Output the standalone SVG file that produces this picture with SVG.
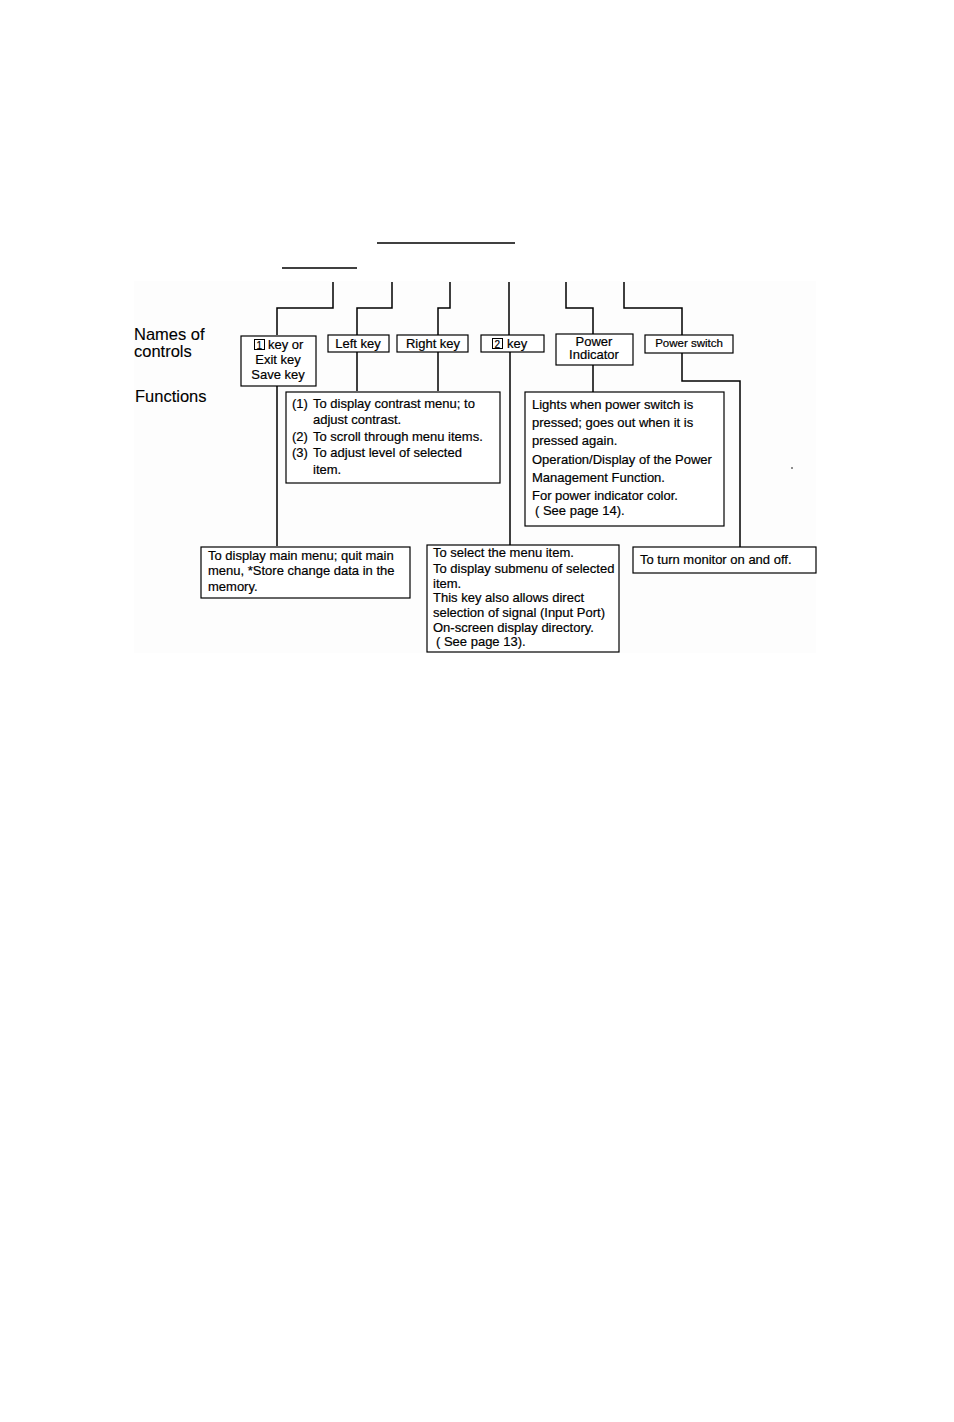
<svg xmlns="http://www.w3.org/2000/svg" width="954" height="1422" viewBox="0 0 954 1422">
<style>
.bg{fill:#fdfdfd}
.box{fill:#ffffff;stroke:#000;stroke-width:1.2}
.kb{fill:none;stroke:#000;stroke-width:1}
.ln{fill:none;stroke:#000;stroke-width:1.5}
text{font-family:"Liberation Sans",Arial,sans-serif;fill:#000;stroke:#000;stroke-width:0.2}
.t{font-size:13px}
.c{font-size:13px;text-anchor:middle}
.h{font-size:16.5px;stroke-width:0.1}
</style>
<rect width="954" height="1422" fill="#ffffff"/>
<rect class="bg" x="134" y="281" width="682" height="372"/>
<line class="ln" x1="377" y1="243" x2="515" y2="243"/>
<line class="ln" x1="282" y1="268" x2="357" y2="268"/>
<text class="h" x="134" y="340">Names of</text>
<text class="h" x="134" y="357">controls</text>
<text class="h" x="135" y="402">Functions</text>
<g id="connectors">
<polyline class="ln" points="333,282 333,308 277,308 277,335"/>
<polyline class="ln" points="392,282 392,308 357,308 357,335"/>
<polyline class="ln" points="450,282 450,308 438,308 438,335"/>
<polyline class="ln" points="509,282 509,335"/>
<polyline class="ln" points="566,282 566,308 593,308 593,334"/>
<polyline class="ln" points="624,282 624,308 682,308 682,335"/>
<line class="ln" x1="277" y1="386" x2="277" y2="546"/>
<line class="ln" x1="357" y1="352" x2="357" y2="391"/>
<line class="ln" x1="438" y1="352" x2="438" y2="391"/>
<line class="ln" x1="510" y1="352" x2="510" y2="545"/>
<line class="ln" x1="593" y1="365" x2="593" y2="392"/>
<polyline class="ln" points="682,353 682,381 740,381 740,547"/>
</g>
<g id="key1">
<rect class="box" x="241" y="336" width="75" height="50"/>
<rect class="kb" x="254.5" y="339.5" width="10" height="10"/>
<text class="t" x="256.5" y="348.5" style="font-size:10px">1</text>
<text class="t" x="268" y="349">key or</text>
<text class="c" x="278" y="364">Exit key</text>
<text class="c" x="278" y="379">Save key</text>
</g>
<g id="leftkey">
<rect class="box" x="328" y="335" width="61" height="17"/>
<text class="c" x="358" y="348">Left key</text>
</g>
<g id="rightkey">
<rect class="box" x="397" y="335" width="71" height="17"/>
<text class="c" x="433" y="348">Right key</text>
</g>
<g id="key2">
<rect class="box" x="481" y="335" width="63" height="17"/>
<rect class="kb" x="492.5" y="338.5" width="10" height="10"/>
<text class="t" x="494.5" y="347.5" style="font-size:10px">2</text>
<text class="t" x="507" y="348">key</text>
</g>
<g id="powerindicator">
<rect class="box" x="556" y="334" width="77" height="31"/>
<text class="c" x="594" y="346">Power</text>
<text class="c" x="594" y="359">Indicator</text>
</g>
<g id="powerswitch">
<rect class="box" x="645" y="335" width="88" height="18"/>
<text class="c" x="689" y="347" style="font-size:11.5px">Power switch</text>
</g>
<g id="fn-leftright">
<rect class="box" x="286" y="392" width="214" height="91"/>
<text class="t" x="292" y="408">(1)</text>
<text class="t" x="313" y="408">To display contrast menu; to</text>
<text class="t" x="313" y="424">adjust contrast.</text>
<text class="t" x="292" y="441">(2)</text>
<text class="t" x="313" y="441">To scroll through menu items.</text>
<text class="t" x="292" y="457">(3)</text>
<text class="t" x="313" y="457">To adjust level of selected</text>
<text class="t" x="313" y="474">item.</text>
</g>
<g id="fn-powerindicator">
<rect class="box" x="525" y="392" width="199" height="134"/>
<text class="t" x="532" y="409">Lights when power switch is</text>
<text class="t" x="532" y="427">pressed; goes out when it is</text>
<text class="t" x="532" y="445">pressed again.</text>
<text class="t" x="532" y="464">Operation/Display of the Power</text>
<text class="t" x="532" y="482">Management Function.</text>
<text class="t" x="532" y="500">For power indicator color.</text>
<text class="t" x="535" y="515">( See page 14).</text>
</g>
<g id="fn-key1">
<rect class="box" x="201" y="547" width="209" height="51"/>
<text class="t" x="208" y="560">To display main menu; quit main</text>
<text class="t" x="208" y="575">menu, *Store change data in the</text>
<text class="t" x="208" y="591">memory.</text>
</g>
<g id="fn-key2">
<rect class="box" x="427" y="545" width="192" height="107"/>
<text class="t" x="433" y="557">To select the menu item.</text>
<text class="t" x="433" y="573">To display submenu of selected</text>
<text class="t" x="433" y="588">item.</text>
<text class="t" x="433" y="602">This key also allows direct</text>
<text class="t" x="433" y="617">selection of signal (Input Port)</text>
<text class="t" x="433" y="632">On-screen display directory.</text>
<text class="t" x="436" y="646">( See page 13).</text>
</g>
<g id="fn-powerswitch">
<rect class="box" x="633" y="547" width="183" height="26"/>
<text class="t" x="640" y="564">To turn monitor on and off.</text>
</g>
<circle cx="792" cy="468" r="0.8" fill="#000"/>
</svg>
